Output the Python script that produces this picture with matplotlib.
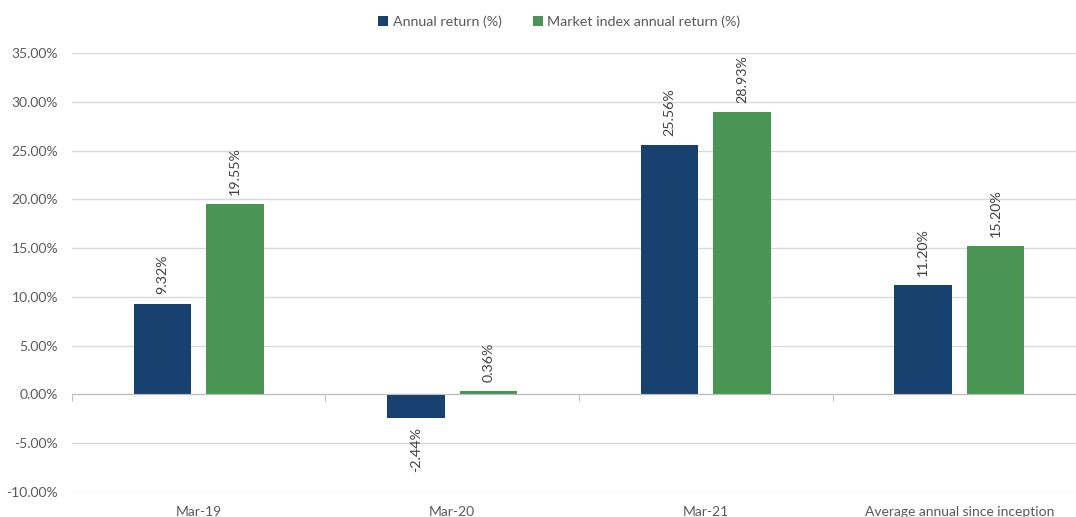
import matplotlib.pyplot as plt
import matplotlib.transforms as mtransforms
from matplotlib.ticker import FuncFormatter
import numpy as np

plt.rcParams['font.family'] = ['Lato', 'DejaVu Sans']

# Data
categories = ['Mar-19', 'Mar-20', 'Mar-21', 'Average annual since inception']
annual_return = [9.32, -2.44, 25.56, 11.20]
market_return = [19.55, 0.36, 28.93, 15.20]
series_names = ['Annual return (%)', 'Market index annual return (%)']
y_ticks = [-10, -5, 0, 5, 10, 15, 20, 25, 30, 35]

blue = '#17416E'
green = '#4A9553'
text_grey = '#595959'

fig = plt.figure(figsize=(10.76, 5.17), dpi=100)
ax = fig.add_axes([0.0669, 0.0484, 0.9424, 0.8491])

x = np.arange(len(categories))
w = 0.225
off = 0.143
b1 = ax.bar(x - off, annual_return, w, color=blue, label=series_names[0], zorder=3)
b2 = ax.bar(x + off, market_return, w, color=green, label=series_names[1], zorder=3)

# rotated data labels
for bars, vals in ((b1, annual_return), (b2, market_return)):
    for bar, v in zip(bars, vals):
        cx = bar.get_x() + bar.get_width() / 2
        if v >= 0:
            ax.annotate(f'{v:.2f}%', (cx, v), xytext=(0, 6.5), textcoords='offset points',
                        rotation=90, ha='center', va='bottom', fontsize=10.3, color='#404040')
        else:
            ax.annotate(f'{v:.2f}%', (cx, v), xytext=(0, -6.5), textcoords='offset points',
                        rotation=90, ha='center', va='top', fontsize=10.3, color='#404040')

ax.set_xlim(-0.5, len(categories) - 0.5)
ax.set_ylim(-10, 35)
ax.set_yticks(y_ticks)
ax.yaxis.set_major_formatter(FuncFormatter(lambda v, p: f'{v:.2f}%'))
ax.tick_params(axis='y', length=0, labelsize=10, labelcolor=text_grey, pad=10)
ax.grid(axis='y', color='#D9D9D9', linewidth=1, zorder=0)

for s in ['top', 'right', 'left']:
    ax.spines[s].set_visible(False)
ax.spines['bottom'].set_position(('data', 0))
ax.spines['bottom'].set_color('#BFBFBF')
ax.spines['bottom'].set_zorder(4)
ax.set_xticks(np.arange(len(categories) + 1) - 0.5)
ax.tick_params(axis='x', length=5, color='#BFBFBF', direction='out', labelbottom=False)

trans = mtransforms.blended_transform_factory(ax.transData, ax.transAxes)
for i, c in enumerate(categories):
    ax.text(i, -0.045, c, transform=trans, ha='center', va='center',
            fontsize=10, color=text_grey)

fig.legend(handles=[b1, b2], labels=series_names, loc='center', bbox_to_anchor=(0.52, 0.958),
           ncol=2, frameon=False, fontsize=10.3, labelcolor=text_grey,
           handlelength=0.7, handleheight=0.7, handletextpad=0.3, columnspacing=2.2)

fig.savefig('out.png', dpi=100)
